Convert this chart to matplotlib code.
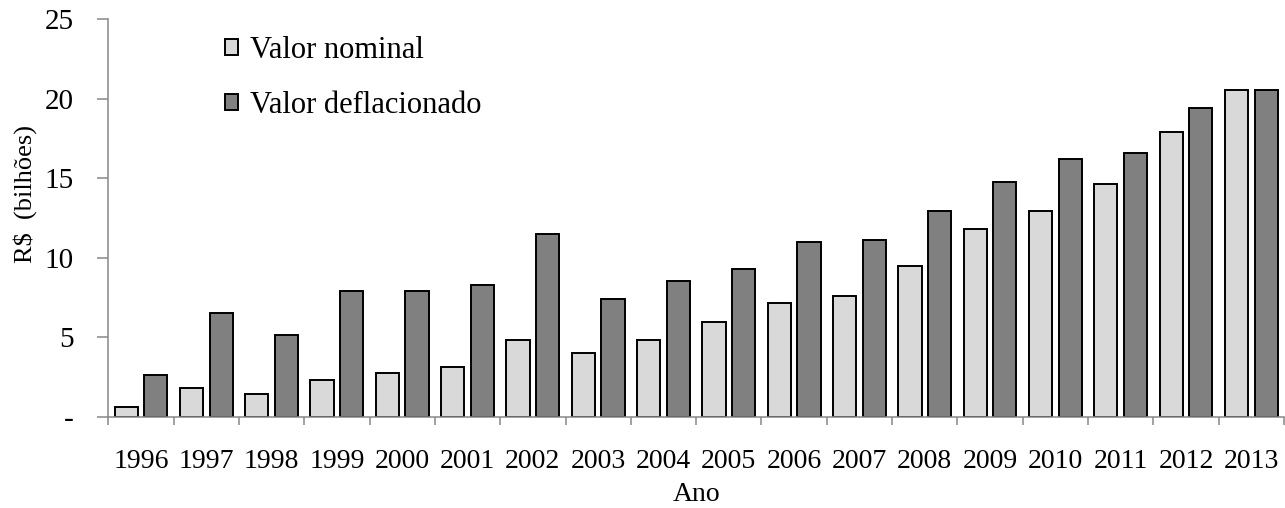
import numpy as np
import matplotlib
matplotlib.use('Agg')
import matplotlib.pyplot as plt
from matplotlib.ticker import FixedLocator

plt.rcParams['font.family'] = ['Liberation Serif', 'DejaVu Serif']

anos = ['1996', '1997', '1998', '1999', '2000', '2001', '2002', '2003', '2004',
        '2005', '2006', '2007', '2008', '2009', '2010', '2011', '2012', '2013']
valor_nominal = [0.61, 1.82, 1.45, 2.33, 2.79, 3.14, 4.86, 4.03, 4.86,
                 5.95, 7.19, 7.57, 9.50, 11.82, 12.94, 14.65, 17.92, 20.52]
valor_deflacionado = [2.66, 6.56, 5.12, 7.92, 7.92, 8.28, 11.47, 7.42, 8.53,
                      9.27, 10.99, 11.11, 12.94, 14.76, 16.23, 16.60, 19.41, 20.52]
y_ticks = [0, 5, 10, 15, 20, 25]
y_labels = ['-', '5', '10', '15', '20', '25']

fig = plt.figure(figsize=(12.85, 5.08), dpi=100)
ax = fig.add_axes([108.3 / 1285, 1 - 417 / 508, (1284 - 108.3) / 1285, (417 - 19) / 508])

x = np.arange(len(anos))
w = 0.355
ax.bar(x - 0.227, valor_nominal, w, color='#D9D9D9', edgecolor='black',
       linewidth=1.4, label='Valor nominal', zorder=2)
ax.bar(x + 0.227, valor_deflacionado, w, color='#808080', edgecolor='black',
       linewidth=1.4, label='Valor deflacionado', zorder=2)

ax.set_xlim(-0.5, len(anos) - 0.5)
ax.set_ylim(0, 25)

for s in ['top', 'right']:
    ax.spines[s].set_visible(False)
for s in ['left', 'bottom']:
    ax.spines[s].set_color('#888888')
    ax.spines[s].set_linewidth(1.1)
    ax.spines[s].set_zorder(3)

ax.set_yticks(y_ticks)
ax.set_yticklabels(y_labels)
ax.tick_params(axis='y', direction='out', length=8, width=1.1, color='#888888',
               labelsize=21, pad=17)

ax.set_xticks(x)
ax.set_xticklabels(anos)
ax.tick_params(axis='x', which='major', length=0, labelsize=20, pad=23)
ax.xaxis.set_minor_locator(FixedLocator(np.arange(-0.5, len(anos), 1.0)))
ax.tick_params(axis='x', which='minor', direction='out', length=6, width=1.1,
               color='#888888')

ax.set_xlabel('Ano', fontsize=20, labelpad=6)
ax.set_ylabel('R$  (bilhões)', fontsize=19)
ax.yaxis.label.set_verticalalignment('center')
ax.yaxis.set_label_coords(-0.071, 0.56)

ax.legend(loc='upper left', bbox_to_anchor=(225 / 1285, 1 - 36 / 508),
          bbox_transform=fig.transFigure, frameon=False, fontsize=22,
          borderpad=0, borderaxespad=0, handlelength=0.42, handleheight=0.42,
          handletextpad=0.4, labelspacing=0.85)

fig.savefig('out.png', dpi=100)
